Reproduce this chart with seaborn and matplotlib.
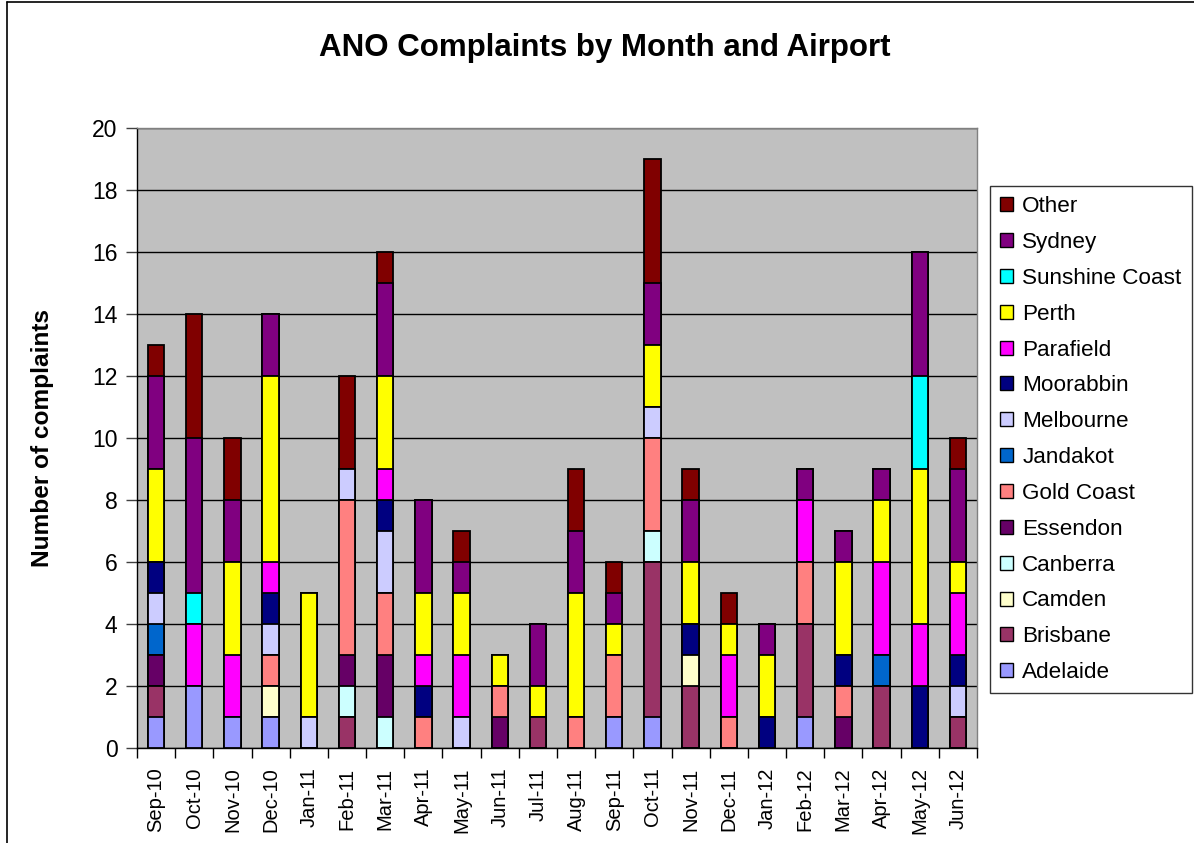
import numpy as np
import pandas as pd
import seaborn as sns
import matplotlib.pyplot as plt
from matplotlib.patches import Patch
from matplotlib.lines import Line2D

# Data
months = ['Sep-10', 'Oct-10', 'Nov-10', 'Dec-10', 'Jan-11', 'Feb-11', 'Mar-11', 'Apr-11',
          'May-11', 'Jun-11', 'Jul-11', 'Aug-11', 'Sep-11', 'Oct-11', 'Nov-11', 'Dec-11',
          'Jan-12', 'Feb-12', 'Mar-12', 'Apr-12', 'May-12', 'Jun-12']

adelaide  = [1, 2, 1, 1, 0, 0, 0, 0, 0, 0, 0, 0, 1, 1, 0, 0, 0, 1, 0, 0, 0, 0]
brisbane  = [1, 0, 0, 0, 0, 1, 0, 0, 0, 0, 1, 0, 0, 5, 2, 0, 0, 3, 0, 2, 0, 1]
camden    = [0, 0, 0, 1, 0, 0, 0, 0, 0, 0, 0, 0, 0, 0, 1, 0, 0, 0, 0, 0, 0, 0]
canberra  = [0, 0, 0, 0, 0, 1, 1, 0, 0, 0, 0, 0, 0, 1, 0, 0, 0, 0, 0, 0, 0, 0]
essendon  = [1, 0, 0, 0, 0, 1, 2, 0, 0, 1, 0, 0, 0, 0, 0, 0, 0, 0, 1, 0, 0, 0]
gold_coast = [0, 0, 0, 1, 0, 5, 2, 1, 0, 1, 0, 1, 2, 3, 0, 1, 0, 2, 1, 0, 0, 0]
jandakot  = [1, 0, 0, 0, 0, 0, 0, 0, 0, 0, 0, 0, 0, 0, 0, 0, 0, 0, 0, 1, 0, 0]
melbourne = [1, 0, 0, 1, 1, 1, 2, 0, 1, 0, 0, 0, 0, 1, 0, 0, 0, 0, 0, 0, 0, 1]
moorabbin = [1, 0, 0, 1, 0, 0, 1, 1, 0, 0, 0, 0, 0, 0, 1, 0, 1, 0, 1, 0, 2, 1]
parafield = [0, 2, 2, 1, 0, 0, 1, 1, 2, 0, 0, 0, 0, 0, 0, 2, 0, 2, 0, 3, 2, 2]
perth     = [3, 0, 3, 6, 4, 0, 3, 2, 2, 1, 1, 4, 1, 2, 2, 1, 2, 0, 3, 2, 5, 1]
sunshine  = [0, 1, 0, 0, 0, 0, 0, 0, 0, 0, 0, 0, 0, 0, 0, 0, 0, 0, 0, 0, 3, 0]
sydney    = [3, 5, 2, 2, 0, 0, 3, 3, 1, 0, 2, 2, 1, 2, 2, 0, 1, 1, 1, 1, 4, 3]
other     = [1, 4, 2, 0, 0, 3, 1, 0, 1, 0, 0, 2, 1, 4, 1, 1, 0, 0, 0, 0, 0, 1]

airports = ['Adelaide', 'Brisbane', 'Camden', 'Canberra', 'Essendon', 'Gold Coast',
            'Jandakot', 'Melbourne', 'Moorabbin', 'Parafield', 'Perth',
            'Sunshine Coast', 'Sydney', 'Other']
series = [adelaide, brisbane, camden, canberra, essendon, gold_coast, jandakot,
          melbourne, moorabbin, parafield, perth, sunshine, sydney, other]
colors = ['#9999FF', '#993366', '#FFFFCC', '#CCFFFF', '#660066', '#FF8080', '#0066CC',
          '#CCCCFF', '#000080', '#FF00FF', '#FFFF00', '#00FFFF', '#800080', '#800000']

df = pd.DataFrame(dict(zip(airports, series)), index=months)
cum = df.cumsum(axis=1)

sns.set_style('white')
plt.rcParams['font.family'] = ['Liberation Sans', 'DejaVu Sans']
plt.rcParams['text.color'] = 'black'
plt.rcParams['axes.labelcolor'] = 'black'
plt.rcParams['xtick.color'] = 'black'
plt.rcParams['ytick.color'] = 'black'

fig = plt.figure(figsize=(11.94, 8.43), dpi=100)
ax = fig.add_axes([137 / 1194, 1 - 748 / 843, 840 / 1194, 620 / 843])
ax.set_facecolor('#C0C0C0')

# draw cumulative totals from the top layer down so lower layers sit on top
for name, col in zip(airports[::-1], colors[::-1]):
    sns.barplot(x=months, y=cum[name].values, color=col, edgecolor='black',
                linewidth=1.3, width=0.43, saturation=1, ax=ax, zorder=3)

ax.set_ylim(0, 20)
ax.set_xlim(-0.5, len(months) - 0.5)
ax.set_yticks(range(0, 21, 2))
ax.yaxis.grid(True, color='black', linewidth=1)
ax.set_axisbelow(True)
for s in ax.spines.values():
    s.set_color('#808080')
    s.set_linewidth(1)
ax.spines['left'].set_color('black')
ax.spines['bottom'].set_color('black')

# x tick marks sit between the categories
ax.set_xticks(np.arange(-0.5, len(months), 1.0), minor=True)
ax.tick_params(axis='x', which='minor', length=7, width=1, color='black', bottom=True)
ax.tick_params(axis='x', which='major', labelsize=14.5, length=0, pad=14,
               rotation=90, bottom=True)
ax.tick_params(axis='y', labelsize=16.5, length=8, direction='out', left=True,
               width=1, color='#404040', pad=6)
ax.set_xlabel('')
ax.set_ylabel('Number of complaints', fontsize=17.6, fontweight='bold')
ax.yaxis.set_label_coords((54 - 137) / 840, 0.5)

fig.text(605 / 1194, 1 - 48 / 843, 'ANO Complaints by Month and Airport',
         ha='center', va='center', fontsize=22.5, fontweight='bold')

handles = [Patch(facecolor=c, edgecolor='black', linewidth=1)
           for c in colors[::-1]]
leg = fig.legend(handles, airports[::-1], loc='upper left',
                 bbox_to_anchor=(990 / 1194, 1 - 186 / 843),
                 fontsize=16.2, frameon=True, fancybox=False, handlelength=0.58,
                 handleheight=0.58, handletextpad=0.4, labelspacing=0.66,
                 borderpad=0.45, borderaxespad=0)
leg.get_frame().set_edgecolor('black')
leg.get_frame().set_linewidth(1)

# thin border along the top and left edges, as in the original
fig.add_artist(Line2D([7 / 1194, 7 / 1194], [0, 1 - 2 / 843], transform=fig.transFigure,
                      color='black', linewidth=1.2))
fig.add_artist(Line2D([7 / 1194, 1], [1 - 2 / 843, 1 - 2 / 843], transform=fig.transFigure,
                      color='black', linewidth=1.2))

fig.savefig('out.png', dpi=100)
